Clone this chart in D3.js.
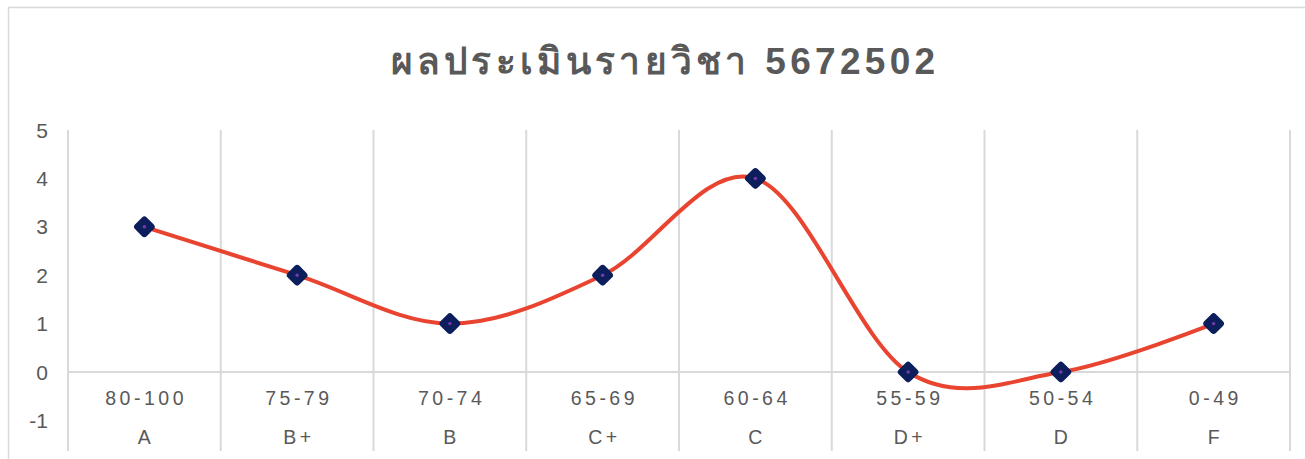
<!DOCTYPE html>
<html>
<head>
<meta charset="utf-8">
<script src="https://cdn.jsdelivr.net/npm/d3@7"></script>
<style>
  html, body { margin: 0; padding: 0; background: #fff; }
  #chart { width: 1305px; height: 459px; }
  text { font-family: "Liberation Sans", Arial, sans-serif; fill: #595959; }
</style>
</head>
<body>
<div id="chart"></div>
<script>
// data
const title = "ผลประเมินรายวิชา 5672502";
const scoreRanges = ["80-100", "75-79", "70-74", "65-69", "60-64", "55-59", "50-54", "0-49"];
const grades = ["A", "B+", "B", "C+", "C", "D+", "D", "F"];
const counts = [3, 2, 1, 2, 4, 0, 0, 1];
const yTicks = [-1, 0, 1, 2, 3, 4, 5];

const W = 1305, H = 459;
const plot = { left: 68, right: 1290, top: 130, bottom: 420.4 };

const svg = d3.select("#chart").append("svg")
    .attr("width", W)
    .attr("height", H);

// chart area border (runs off the right and bottom edges)
svg.append("rect")
    .attr("x", 8.5).attr("y", 7.5)
    .attr("width", 1310).attr("height", 470)
    .attr("fill", "#fff")
    .attr("stroke", "#d9d9d9")
    .attr("stroke-width", 1.5);

// Scales
const x = d3.scaleBand()
    .domain(grades)
    .range([plot.left, plot.right])
    .padding(0);

const y = d3.scaleLinear()
    .domain([-1, 5])
    .range([plot.bottom, plot.top]);

const cx = d => x(d) + x.bandwidth() / 2;

// vertical gridlines at category boundaries, run through both label rows
const bounds = grades.map(g => x(g)).concat([plot.right]);
svg.append("g")
    .selectAll("line")
    .data(bounds)
    .enter()
    .append("line")
    .attr("x1", d => d).attr("x2", d => d)
    .attr("y1", y(5)).attr("y2", 451)
    .attr("stroke", "#d9d9d9")
    .attr("stroke-width", 2);

// zero line
svg.append("line")
    .attr("x1", plot.left).attr("x2", plot.right)
    .attr("y1", y(0)).attr("y2", y(0))
    .attr("stroke", "#d9d9d9")
    .attr("stroke-width", 2);

// y labels
svg.append("g")
    .selectAll("text")
    .data(yTicks)
    .enter()
    .append("text")
    .attr("x", 48)
    .attr("y", d => y(d) + 7.5)
    .attr("text-anchor", "end")
    .style("font-size", "21px")
    .text(d => d);

// category labels, two levels
const ls = 3.5;
svg.append("g")
    .selectAll("text")
    .data(scoreRanges)
    .enter()
    .append("text")
    .attr("x", (d, i) => cx(grades[i]) + ls / 2)
    .attr("y", 405)
    .attr("text-anchor", "middle")
    .style("font-size", "19.5px")
    .style("letter-spacing", ls + "px")
    .text(d => d);

svg.append("g")
    .selectAll("text")
    .data(grades)
    .enter()
    .append("text")
    .attr("x", d => cx(d) + ls / 2)
    .attr("y", 444)
    .attr("text-anchor", "middle")
    .style("font-size", "19.5px")
    .style("letter-spacing", ls + "px")
    .text(d => d);

// title
svg.append("text")
    .attr("x", 665)
    .attr("y", 74)
    .attr("text-anchor", "middle")
    .style("font-size", "37px")
    .style("font-weight", "bold")
    .style("letter-spacing", "4.3px")
    .text(title);

// smoothed line (Excel style smoothing ~ Catmull-Rom)
const pts = grades.map((g, i) => ({ g: g, v: counts[i] }));
const line = d3.line()
    .x(d => cx(d.g))
    .y(d => y(d.v))
    .curve(d3.curveCardinal.tension(0));

svg.append("path")
    .datum(pts)
    .attr("d", line)
    .attr("fill", "none")
    .attr("stroke", "#e8442f")
    .attr("stroke-width", 4)
    .attr("stroke-linecap", "round");

// diamond markers
const markers = svg.append("g")
    .selectAll("g")
    .data(pts)
    .enter()
    .append("g")
    .attr("transform", d => `translate(${cx(d.g)},${y(d.v)})`);

markers.append("rect")
    .attr("x", -7.5).attr("y", -7.5)
    .attr("width", 15).attr("height", 15)
    .attr("rx", 2.5)
    .attr("transform", "rotate(45)")
    .attr("fill", "#0c1e5b")
    .attr("stroke", "#0c1e5b")
    .attr("stroke-width", 1.5);

markers.append("circle")
    .attr("r", 1.7)
    .attr("fill", "#7a3aa8");
</script>
</body>
</html>
